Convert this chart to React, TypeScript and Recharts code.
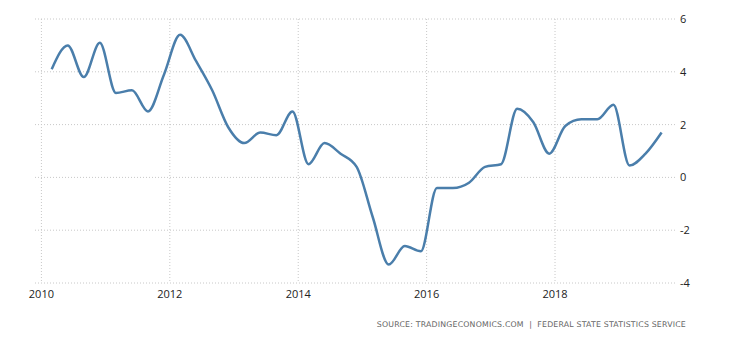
import React from 'react';
import { LineChart, Line, XAxis, YAxis, CartesianGrid } from 'recharts';

// quarterly GDP growth, 2010 Q1 .. 2019 Q3
const startYear = 2010;
const quarterOffset = 0.16;
const growth = [
  4.1, 5.0, 3.8, 5.1,
  3.2, 3.3, 2.5, 3.9,
  5.4, 4.4, 3.3, 1.9,
  1.3, 1.7, 1.6, 2.5,
  0.5, 1.3, 0.9, 0.4,
  -1.5, -3.3, -2.6, -2.8,
  -0.4, -0.4, -0.2, 0.4,
  0.5, 2.6, 2.1, 0.9,
  1.95, 2.2, 2.2, 2.75,
  0.45, 0.9, 1.7,
];
const xTicks = [2010, 2012, 2014, 2016, 2018];
const yTicks = [-4, -2, 0, 2, 4, 6];
const xDomain = [2009.9, 2019.9];

const data = growth.map((value, i) => ({
  t: startYear + quarterOffset + i * 0.25,
  value,
}));

const font = { fontFamily: 'Open Sans, sans-serif', fontSize: 11, fill: '#222' };

// vertical grid only at the year ticks, no lines on the plot edges
const yearLines = ({ offset }: any) =>
  xTicks.map((t) => offset.left + ((t - xDomain[0]) / (xDomain[1] - xDomain[0])) * offset.width);

export default function App() {
  return (
    <div style={{ position: 'absolute', left: 0, top: 0, width: 730, height: 340, background: '#fff' }}>
      <LineChart
        width={730}
        height={340}
        data={data}
        margin={{ top: 19, right: 13, bottom: 37, left: 35 }}
      >
        <CartesianGrid
          stroke="#c8c8c8"
          strokeDasharray="1 2"
          verticalCoordinatesGenerator={yearLines}
        />
        <XAxis
          dataKey="t"
          type="number"
          domain={xDomain}
          ticks={xTicks}
          allowDataOverflow
          axisLine={false}
          tickLine={false}
          tickSize={0}
          tickMargin={7}
          height={20}
          tick={font}
        />
        <YAxis
          orientation="right"
          domain={[-4, 6]}
          ticks={yTicks}
          allowDataOverflow
          axisLine={false}
          tickLine={false}
          tickSize={0}
          tickMargin={3}
          width={40}
          tick={{ ...font, textAnchor: 'start' }}
        />
        <Line
          type="monotone"
          dataKey="value"
          stroke="#4a7eab"
          strokeWidth={2.5}
          dot={false}
          isAnimationActive={false}
        />
      </LineChart>
      <div
        style={{
          position: 'absolute',
          right: 44,
          top: 320,
          fontFamily: 'DejaVu Sans, sans-serif',
          fontSize: 7.8,
          letterSpacing: 0.2,
          color: '#666',
          whiteSpace: 'pre',
        }}
      >
        {'SOURCE: TRADINGECONOMICS.COM  |  FEDERAL STATE STATISTICS SERVICE'}
      </div>
    </div>
  );
}
